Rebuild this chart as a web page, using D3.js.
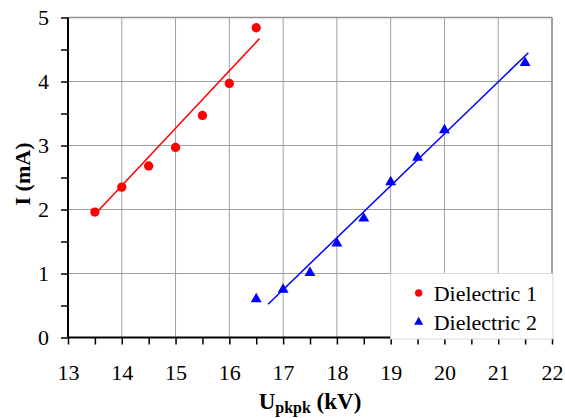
<!DOCTYPE html>
<html>
<head>
<meta charset="utf-8">
<script src="https://cdn.jsdelivr.net/npm/d3@7"></script>
<style>
  body { margin: 0; background: #fff; }
</style>
</head>
<body>
<div id="chart"></div>
<script>
// data
const xTicks = [13, 14, 15, 16, 17, 18, 19, 20, 21, 22];
const yTicks = [0, 1, 2, 3, 4, 5];

const d1Voltage = [13.5, 14, 14.5, 15, 15.5, 16, 16.5];
const d1Current = [1.96, 2.35, 2.68, 2.97, 3.47, 3.97, 4.84];

const d2Voltage = [16.5, 17, 17.5, 18, 18.5, 19, 19.5, 20, 21.5];
const d2Current = [0.60, 0.75, 1.01, 1.47, 1.86, 2.43, 2.81, 3.24, 4.29];

// trend lines (start / end) as drawn in the figure
const d1TrendX = [13.55, 16.56];
const d1TrendY = [1.97, 4.67];
const d2TrendX = [16.72, 21.56];
const d2TrendY = [0.52, 4.45];

const seriesNames = ["Dielectric 1", "Dielectric 2"];
const seriesColors = ["#ff0000", "#0000ff"];

const FONT = "Liberation Serif";

const W = 565, H = 418;
const margin = { left: 68, right: 13, top: 17.5, bottom: 80.5 };
const w = W - margin.left - margin.right;
const h = H - margin.top - margin.bottom;

const svg = d3.select("#chart").append("svg")
  .attr("width", W)
  .attr("height", H);

const g = svg.append("g")
  .attr("transform", "translate(" + margin.left + "," + margin.top + ")");

const x = d3.scaleLinear().domain([13, 22]).range([0, w]);
const y = d3.scaleLinear().domain([0, 5]).range([h, 0]);

// grid
g.append("g").selectAll("line").data(xTicks.slice(1)).enter().append("line")
  .attr("x1", d => x(d)).attr("x2", d => x(d))
  .attr("y1", 0).attr("y2", h)
  .attr("stroke", "#a0a0a0").attr("stroke-width", 1);
g.append("g").selectAll("line").data(yTicks.slice(1)).enter().append("line")
  .attr("x1", 0).attr("x2", w)
  .attr("y1", d => y(d)).attr("y2", d => y(d))
  .attr("stroke", "#a0a0a0").attr("stroke-width", 1);

// minor ticks
const xMinor = d3.range(13, 22.01, 0.5);
const yMinor = d3.range(0, 5.01, 0.5);

const xAxis = g.append("g")
  .attr("transform", "translate(0," + h + ")")
  .call(d3.axisBottom(x).tickValues(xMinor).tickSize(7).tickFormat(""));
xAxis.select(".domain").remove();
xAxis.selectAll("line").attr("stroke", "#000").attr("stroke-width", 1.5);

const xLabels = g.append("g")
  .attr("transform", "translate(0," + h + ")")
  .call(d3.axisBottom(x).tickValues(xTicks).tickSize(0).tickPadding(27).tickFormat(d3.format("d")));
xLabels.select(".domain").remove();
xLabels.attr("font-family", FONT).attr("font-size", 22);

const yAxis = g.append("g")
  .call(d3.axisLeft(y).tickValues(yMinor).tickSize(7).tickFormat(""));
yAxis.select(".domain").remove();
yAxis.selectAll("line").attr("stroke", "#000").attr("stroke-width", 1.5);

const yLabels = g.append("g")
  .call(d3.axisLeft(y).tickValues(yTicks).tickSize(0).tickPadding(19).tickFormat(d3.format("d")));
yLabels.select(".domain").remove();
yLabels.attr("font-family", FONT).attr("font-size", 22);
yLabels.selectAll("text").attr("dy", "0.34em");

// frame: top and right gray, left and bottom black
g.append("line").attr("x1", 0).attr("x2", w).attr("y1", 0).attr("y2", 0)
  .attr("stroke", "#909090").attr("stroke-width", 1.5);
g.append("line").attr("x1", w).attr("x2", w).attr("y1", 0).attr("y2", h)
  .attr("stroke", "#909090").attr("stroke-width", 1.5);
g.append("line").attr("x1", 0).attr("x2", 0).attr("y1", 0).attr("y2", h)
  .attr("stroke", "#000").attr("stroke-width", 2);
g.append("line").attr("x1", 0).attr("x2", w).attr("y1", h).attr("y2", h)
  .attr("stroke", "#000").attr("stroke-width", 2);

// trend lines
const line = d3.line().x(d => x(d[0])).y(d => y(d[1]));
g.append("path").datum(d3.zip(d1TrendX, d1TrendY))
  .attr("d", line).attr("fill", "none")
  .attr("stroke", seriesColors[0]).attr("stroke-width", 1.5);
g.append("path").datum(d3.zip(d2TrendX, d2TrendY))
  .attr("d", line).attr("fill", "none")
  .attr("stroke", seriesColors[1]).attr("stroke-width", 1.5);

// markers
const circle = d3.symbol().type(d3.symbolCircle).size(68);
const tri = d3.symbol().type(d3.symbolTriangle).size(52);

g.append("g").selectAll("path").data(d3.zip(d1Voltage, d1Current)).enter().append("path")
  .attr("d", circle)
  .attr("transform", d => "translate(" + x(d[0]) + "," + y(d[1]) + ")")
  .attr("fill", seriesColors[0]);

g.append("g").selectAll("path").data(d3.zip(d2Voltage, d2Current)).enter().append("path")
  .attr("d", tri)
  .attr("transform", d => "translate(" + x(d[0]) + "," + y(d[1]) + ")")
  .attr("fill", seriesColors[1]);

// legend
const lx = x(19), ly = y(1);
const legend = g.append("g").attr("transform", "translate(" + lx + "," + ly + ")");
legend.append("rect")
  .attr("x", 0).attr("y", 0)
  .attr("width", w - lx + 1).attr("height", h - ly + 1.5)
  .attr("fill", "#fff").attr("stroke", "#d8d8d8").attr("stroke-width", 1);

const items = legend.selectAll("g.item").data(seriesNames).enter().append("g")
  .attr("class", "item")
  .attr("transform", (d, i) => "translate(28," + (19.5 + i * 29) + ")");
items.append("path")
  .attr("d", (d, i) => d3.symbol().type(i === 0 ? d3.symbolCircle : d3.symbolTriangle).size(i === 0 ? 42 : 36)())
  .attr("fill", (d, i) => seriesColors[i]);
items.append("text")
  .attr("x", 15).attr("y", 7.5)
  .attr("font-size", 22)
  .attr("font-family", FONT)
  .text(d => d);

// axis titles
svg.append("text")
  .attr("transform", "translate(30," + 174 + ") rotate(-90)")
  .attr("text-anchor", "middle")
  .attr("font-size", 22).attr("font-weight", "bold")
  .attr("font-family", FONT)
  .text("I (mA)");

const xt = svg.append("text")
  .attr("x", margin.left + w / 2).attr("y", 409)
  .attr("text-anchor", "middle")
  .attr("font-size", 23).attr("font-weight", "bold")
  .attr("font-family", FONT);
xt.append("tspan").text("U");
xt.append("tspan").attr("font-size", 16).attr("dy", 4).text("pkpk");
xt.append("tspan").attr("dy", -4).text(" (kV)");
</script>
</body>
</html>
